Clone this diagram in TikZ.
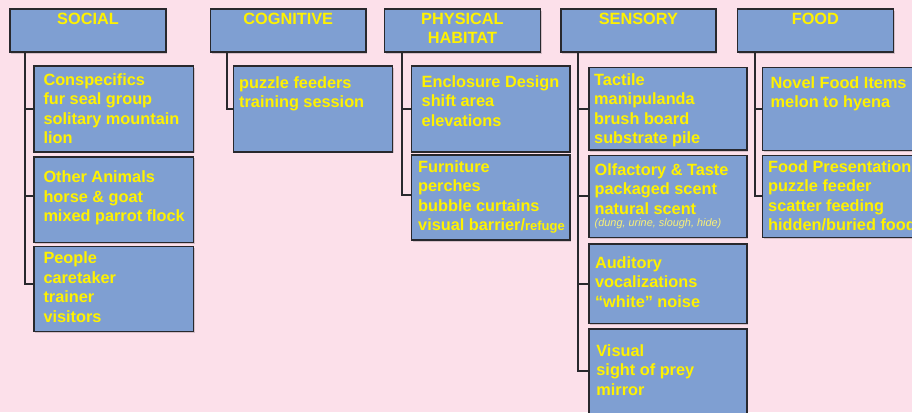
\documentclass[tikz,border=0pt]{standalone}
\usepackage{fontspec}
\setmainfont{Liberation Sans}
\usetikzlibrary{shadows}
\definecolor{bgpink}{RGB}{252,224,234}
\definecolor{boxblue}{RGB}{127,159,210}
\definecolor{edgegray}{RGB}{40,40,45}
\definecolor{ytext}{RGB}{255,242,0}
\definecolor{ypale}{RGB}{248,240,120}
\begin{document}
\begin{tikzpicture}[x=1pt,y=-1pt,
  box/.style={draw=edgegray, line width=1.7pt, fill=boxblue, anchor=north west, inner sep=0pt,
    drop shadow={shadow xshift=1.2pt, shadow yshift=-1.4pt, fill=black, opacity=0.15}},
  conn/.style={draw=edgegray, line width=2pt},
  txt/.style={text=ytext, font=\bfseries\fontsize{16.3}{19.5}\selectfont, align=left, anchor=north west, inner sep=0pt},
  htxt/.style={text=ytext, font=\bfseries\fontsize{16.3}{19}\selectfont, align=center, anchor=north, inner sep=0pt},
  smalltxt/.style={text=ypale, font=\itshape\fontsize{10.9}{12}\selectfont, anchor=base west, inner sep=0pt}
]
\useasboundingbox[fill=bgpink] (0,0) rectangle (912,412);

% headers
\node[box, minimum width=155.7pt, minimum height=43pt] (soc) at (9.3,8.3) {};
\node[box, minimum width=155.3pt, minimum height=43pt] (cog) at (209.7,8.3) {};
\node[box, minimum width=156pt, minimum height=43pt] (phy) at (383.6,8.3) {};
\node[box, minimum width=155.5pt, minimum height=43pt] (sen) at (559.8,8.3) {};
\node[box, minimum width=156pt, minimum height=43pt] (food) at (736.5,8.3) {};

\node[htxt] (soct) at ([yshift=-5pt]soc.north) {SOCIAL};
\node[htxt] (cogt) at ([yshift=-5pt]cog.north) {COGNITIVE};
\node[htxt] (phyt) at ([yshift=-5pt]phy.north) {PHYSICAL\\HABITAT};
\node[htxt] (sent) at ([yshift=-5pt]sen.north) {SENSORY};
\node[htxt] (foodt) at ([yshift=-5pt]food.north) {FOOD};

% child boxes
\node[box, minimum width=159.4pt, minimum height=85.7pt] (s1) at (33.3,65.3) {};
\node[box, minimum width=159.4pt, minimum height=85.7pt] (s2) at (33.3,156) {};
\node[box, minimum width=159.4pt, minimum height=85pt] (s3) at (33.3,245.7) {};
\node[box, minimum width=159pt, minimum height=85.7pt] (c1) at (232.7,65.3) {};
\node[box, minimum width=158.8pt, minimum height=85.7pt] (p1) at (410.6,65.3) {};
\node[box, minimum width=158.8pt, minimum height=85.3pt] (p2) at (410.6,154) {};
\node[box, minimum width=158.3pt, minimum height=82.6pt] (e1) at (588,66.7) {};
\node[box, minimum width=158.3pt, minimum height=82pt] (e2) at (588,154.7) {};
\node[box, minimum width=158.3pt, minimum height=79.7pt] (e3) at (588,243) {};
\node[box, minimum width=158.3pt, minimum height=88pt] (e4) at (588,328.3) {};
\node[box, minimum width=170pt, minimum height=83pt] (f1) at (761.7,66.7) {};
\node[box, minimum width=170pt, minimum height=82pt] (f2) at (761.7,154.7) {};

% texts
\node[txt] (s1t) at (43.3,73.3) {Conspecifics\\fur seal group\\solitary mountain\\lion};
\node[txt] (s2t) at (43.3,170.7) {Other Animals\\horse \& goat\\mixed parrot flock};
\node[txt] (s3t) at (43.3,251.7) {People\\caretaker\\trainer\\visitors};
\node[txt] (c1t) at (239,76) {puzzle feeders\\training session};
\node[txt] (p1t) at (421.5,75) {Enclosure Design\\shift area\\elevations};
\node[txt] (p2t) at (418,160) {Furniture\\perches\\bubble curtains\\visual barrier/{\fontsize{13}{19.5}\selectfont refuge}};
\node[txt] (e1t) at (594,73.3) {Tactile\\manipulanda\\brush board\\substrate pile};
\node[txt] (e2t) at (594.5,163.3) {Olfactory \& Taste\\packaged scent\\natural scent};
\node[smalltxt] (e2s) at (594.5,226.7) {(dung, urine, slough, hide)};
\node[txt] (e3t) at (594.8,256) {Auditory\\vocalizations\\“white” noise};
\node[txt] (e4t) at (596.2,344) {Visual\\sight of prey\\mirror};
\node[txt] (f1t) at (770.5,76) {Novel Food Items\\melon to hyena};
\node[txt] (f2t) at (768,160) {Food Presentation\\puzzle feeder\\scatter feeding\\hidden/buried food};

% connectors
\coordinate (socL) at ([xshift=15.7pt]soc.south west);
\coordinate (cogL) at ([xshift=17pt]cog.south west);
\coordinate (phyL) at ([xshift=18.4pt]phy.south west);
\coordinate (senL) at ([xshift=18.6pt]sen.south west);
\coordinate (foodL) at ([xshift=18pt]food.south west);

\draw[conn] (socL) |- ([yshift=5pt]s3.west);
\draw[conn] (s1.west) -- (s1.west -| socL);
\draw[conn] ([yshift=4pt]s2.west) -- ([yshift=4pt]s2.west -| socL);

\draw[conn] (cogL) |- (c1.west);

\draw[conn] (phyL) |- ([yshift=2.4pt]p2.west);
\draw[conn] (p1.west) -- (p1.west -| phyL);

\draw[conn] (senL) |- ([yshift=2.3pt]e4.west);
\draw[conn] (e1.west) -- (e1.west -| senL);
\draw[conn] ([yshift=0.7pt]e2.west) -- ([yshift=0.7pt]e2.west -| senL);
\draw[conn] (e3.west) -- (e3.west -| senL);

\draw[conn] (foodL) |- ([yshift=0.7pt]f2.west);
\draw[conn] (f1.west) -- (f1.west -| foodL);
\end{tikzpicture}
\end{document}
